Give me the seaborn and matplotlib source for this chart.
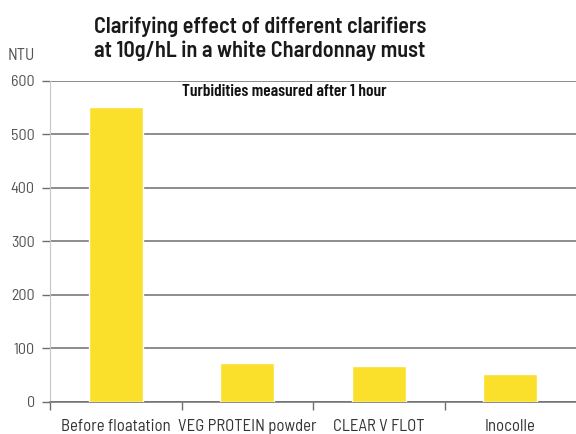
import matplotlib.pyplot as plt
import seaborn as sns
import pandas as pd

# data
categories = ["Before floatation", "VEG PROTEIN powder", "CLEAR V FLOT", "Inocolle"]
turbidity = [551, 72, 67, 52]
y_ticks = [0, 100, 200, 300, 400, 500, 600]

df = pd.DataFrame({"clarifier": categories, "ntu": turbidity})

sns.set_style("white")
plt.rcParams['font.family'] = ['Barlow Semi Condensed', 'DejaVu Sans']

fig = plt.figure(figsize=(5.76, 4.34), dpi=100)
ax = fig.add_axes([0.087, 0.074, 0.913, 0.74])

sns.barplot(x="clarifier", y="ntu", data=df, color="#FADF2B", width=0.41,
            saturation=1, ax=ax, zorder=3)

# gridlines and axes styling
ax.set_ylim(0, 600)
ax.set_xlim(-0.5, 3.5)
ax.set_yticks(y_ticks)
ax.yaxis.grid(True, color="#6e6e6e", linewidth=1.1, zorder=0)
ax.set_axisbelow(True)
for side in ["top", "right"]:
    ax.spines[side].set_visible(False)
ax.spines["left"].set_color("#c8c8c8")
ax.spines["bottom"].set_color("#6e6e6e")
ax.spines["bottom"].set_linewidth(1.1)

ax.tick_params(axis="y", colors="#6e6e6e", labelcolor="#555555", labelsize=11.5,
               length=6, width=1, left=True, pad=5)
ax.set_xticks([-0.5, 0.5, 1.5, 2.5], minor=True)
ax.tick_params(axis="x", which="minor", length=6, width=1, color="#6e6e6e", bottom=True)
ax.tick_params(axis="x", which="major", length=0, labelsize=12, labelcolor="#333333", pad=12)
ax.set_xlabel("")
ax.set_ylabel("")

# text
fig.text(0.014, 0.862, "NTU", fontsize=12, color="#555555")
fig.text(0.163, 0.868, "Clarifying effect of different clarifiers\nat 10g/hL in a white Chardonnay must",
         fontsize=16, fontweight=600, color="#1a1a1a", linespacing=1.2)
ax.text(1.28, 580, "Turbidities measured after 1 hour", fontsize=12.5, fontweight=600,
        family="Barlow Condensed", ha="center", va="center", color="#111111")

plt.savefig("out.png", dpi=100)
